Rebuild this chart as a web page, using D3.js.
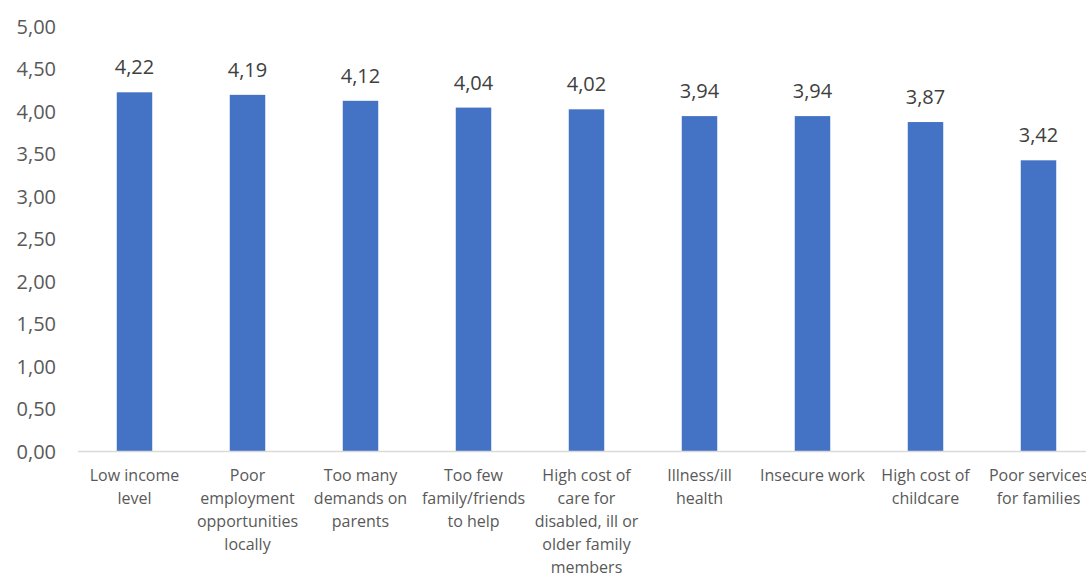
<!DOCTYPE html>
<html>
<head>
<meta charset="utf-8">
<script src="https://cdn.jsdelivr.net/npm/d3@7"></script>
<style>
  html, body { margin: 0; padding: 0; background: #fff; }
  svg { display: block; }
</style>
</head>
<body>
<svg id="chart" width="1086" height="574"></svg>
<script>
const categoryLines = [
  ["Low income", "level"],
  ["Poor", "employment", "opportunities", "locally"],
  ["Too many", "demands on", "parents"],
  ["Too few", "family/friends", "to help"],
  ["High cost of", "care for", "disabled, ill or", "older family", "members"],
  ["Illness/ill", "health"],
  ["Insecure work"],
  ["High cost of", "childcare"],
  ["Poor services", "for families"]
];
const categories = categoryLines.map(l => l.join(" "));
const values = [4.22, 4.19, 4.12, 4.04, 4.02, 3.94, 3.94, 3.87, 3.42];
const yTicks = [0, 0.5, 1, 1.5, 2, 2.5, 3, 3.5, 4, 4.5, 5];

const fmt = v => v.toFixed(2).replace(".", ",");
const svg = d3.select("#chart");
const font = "'Open Sans', 'Liberation Sans', sans-serif";

const x = d3.scaleBand().domain(categories).range([78, 1095]).paddingInner(0.686).paddingOuter(0.343);
const y = d3.scaleLinear().domain([0, 5]).range([451, 26]);

// y tick labels
const yAxis = d3.axisLeft(y).tickValues(yTicks).tickFormat(fmt).tickSize(0).tickPadding(0);
const gy = svg.append("g").attr("transform", "translate(56,0)").call(yAxis);
gy.select(".domain").remove();
gy.selectAll("text").attr("font-family", font).attr("font-size", 20).attr("fill", "#595959").attr("dy", "0.35em");

// bars
svg.append("g").selectAll("rect").data(values).join("rect")
  .attr("x", (d, i) => x(categories[i]))
  .attr("y", d => y(d))
  .attr("width", x.bandwidth())
  .attr("height", d => y(0) - y(d))
  .attr("fill", "#4472C4");

// baseline
svg.append("line").attr("x1", 78).attr("x2", 1095).attr("y1", y(0) + 0.5).attr("y2", y(0) + 0.5)
  .attr("stroke", "#D9D9D9").attr("stroke-width", 1.5);

// value labels
svg.append("g").selectAll("text").data(values).join("text")
  .attr("x", (d, i) => x(categories[i]) + x.bandwidth() / 2)
  .attr("y", d => y(d) - 18)
  .attr("text-anchor", "middle")
  .attr("font-family", font).attr("font-size", 20).attr("fill", "#404040")
  .text(fmt);

// category labels
const cg = svg.append("g");
categoryLines.forEach((lines, i) => {
  const t = cg.append("text")
    .attr("x", x(categories[i]) + x.bandwidth() / 2)
    .attr("y", 481)
    .attr("text-anchor", "middle")
    .attr("font-family", font).attr("font-size", 16).attr("fill", "#595959");
  lines.forEach((ln, j) => {
    t.append("tspan").attr("x", x(categories[i]) + x.bandwidth() / 2).attr("y", 481 + j * 23).text(ln);
  });
});
</script>
</body>
</html>
